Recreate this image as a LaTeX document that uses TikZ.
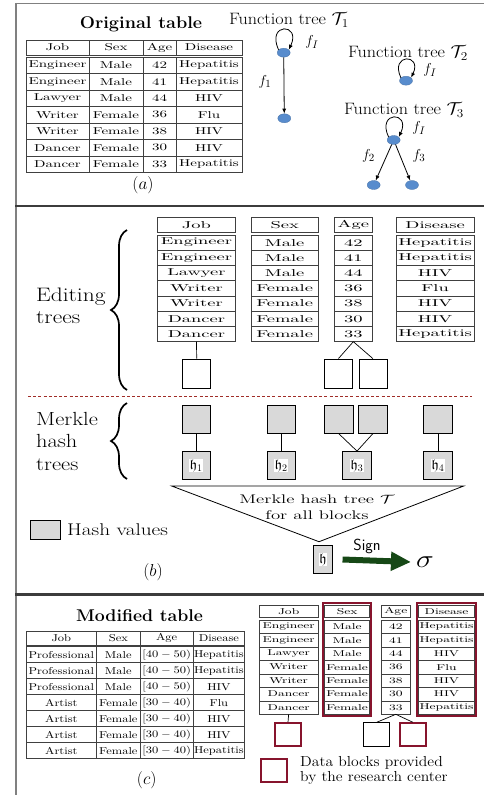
\documentclass[tikz,border=0pt]{standalone}
\usepackage{amssymb}
\usepackage{graphicx}
\usetikzlibrary{shapes.geometric,arrows.meta,fit,decorations.pathreplacing}
\newcommand{\sx}[2]{\scalebox{#1}[1]{#2}}
\newcommand{\tabtxt}[1]{#1}
\setlength{\fboxsep}{0.8pt}
\definecolor{nodeblue}{RGB}{88,140,205}
\definecolor{hashgray}{RGB}{217,217,217}
\definecolor{darkred}{RGB}{135,20,45}
\definecolor{dashred}{RGB}{160,45,40}
\definecolor{signgreen}{RGB}{22,72,22}
\definecolor{framegray}{RGB}{128,128,128}
\definecolor{sepdark}{RGB}{60,60,60}
\tikzset{
  cellbox/.style={draw=black!75, line width=0.6pt, inner sep=0pt, outer sep=0pt},
  blk/.style={draw=black, line width=0.8pt, minimum width=28pt, minimum height=29pt, inner sep=0pt},
  hashblk/.style={blk, fill=hashgray, minimum height=28pt, minimum width=28.5pt},
  redblk/.style={draw=darkred, line width=2pt, minimum width=26pt, minimum height=23pt, inner sep=0pt},
  redfit/.style={draw=darkred, line width=2pt, inner sep=1.5pt},
  tnode/.style={ellipse, fill=nodeblue, draw=nodeblue!80!black, line width=0.3pt, minimum width=13pt, minimum height=9pt, inner sep=0pt},
  farrow/.style={-{Latex[length=5pt,width=4pt]}, line width=0.8pt},
  flab/.style={font=\fontsize{15}{15}\selectfont, inner sep=0pt},
  ttitle/.style={font=\fontsize{16.5}{16.5}\selectfont, inner sep=0pt},
  hlab/.style={font=\fontsize{14}{14}\selectfont},
  plab/.style={font=\fontsize{18}{18}\selectfont, inner sep=0pt},
  signarr/.style={draw=signgreen, line width=6pt, -{Triangle[length=20pt,width=18pt]}},
  bigbrace/.style={decorate, decoration={brace, amplitude=16pt}, line width=1.7pt},
}
\newcommand{\datacol}[9]{%
  \node[cellbox, minimum width=#3pt, minimum height=#5pt] (#1-h) at (#2,#4) {\tabtxt{#8}};
  \foreach \t [count=\r] in {#9} {
    \node[cellbox, minimum width=#3pt, minimum height=#7pt] (#1-\r) at (#2,{#6-#7*(\r-0.5)}) {\tabtxt{\t}};
  }%
}
\begin{document}
\begin{tikzpicture}[x=1pt,y=1pt]
\useasboundingbox (0,0) rectangle (484,-795);
% frame
\draw[framegray, line width=1.5pt] (15,-3.5) -- (484,-3.5);
\draw[framegray, line width=2pt] (16,-2.8) -- (16,-795);
\draw[sepdark, line width=2.3pt] (15,-206.2) -- (484,-206.2);
\draw[sepdark, line width=2.3pt] (15,-594.5) -- (484,-594.5);

% ===== panel (a)
\node[font=\fontsize{17}{17}\selectfont\bfseries] (ot) at (141,-24) {\sx{1.06}{Original table}};
\renewcommand{\tabtxt}[1]{\fontsize{10}{12}\selectfont\sx{1.5}{#1}}
\datacol{ta1}{57.5}{63}{-47.5}{15}{-57}{16.5}{Job}{Engineer,Engineer,Lawyer,Writer,Writer,Dancer,Dancer}
\datacol{ta2}{116}{54}{-47.5}{15}{-57}{16.5}{Sex}{Male,Male,Male,Female,Female,Female,Female}
\datacol{ta3}{159.5}{33}{-47.5}{15}{-57}{16.5}{Age}{42,41,44,36,38,30,33}
\datacol{ta4}{209}{66}{-47.5}{15}{-57}{16.5}{Disease}{Hepatitis,Hepatitis,HIV,Flu,HIV,HIV,Hepatitis}
\node[plab] (la) at (143,-185) {$(a)$};

% function trees
\node[ttitle] (ft1) at (289,-20) {\sx{1.1}{Function tree $\mathcal{T}_1$}};
\node[tnode] (t1r) at (283.7,-52.7) {};
\node[tnode] (t1c) at (284.3,-118.3) {};
\draw[farrow] (t1r.150) .. controls +(115:30) and +(65:30) .. (t1r.30);
\node[flab] (f1i) at (312,-42) {$f_I$};
\draw[farrow] (t1r) -- (t1c);
\node[flab] (f1) at (265,-82) {$f_1$};

\node[ttitle] (ft2) at (408,-53) {\sx{1.1}{Function tree $\mathcal{T}_2$}};
\node[tnode] (t2r) at (406,-80.7) {};
\draw[farrow] (t2r.150) .. controls +(115:27) and +(65:27) .. (t2r.30);
\node[flab] (f2i) at (430,-70) {$f_I$};

\node[ttitle] (ft3) at (404,-110) {\sx{1.1}{Function tree $\mathcal{T}_3$}};
\node[tnode] (t3r) at (393.7,-140) {};
\node[tnode] (t3a) at (373.7,-185) {};
\node[tnode] (t3b) at (412,-185) {};
\draw[farrow] (t3r.150) .. controls +(115:29) and +(65:29) .. (t3r.30);
\node[flab] (f3i) at (419,-128) {$f_I$};
\draw[farrow] (t3r) -- (t3a);
\draw[farrow] (t3r) -- (t3b);
\node[flab] (f2) at (368.5,-156) {$f_2$};
\node[flab] (f3) at (419,-156) {$f_3$};

% ===== panel (b)
\renewcommand{\tabtxt}[1]{\fontsize{10}{12}\selectfont\sx{1.85}{#1}}
\datacol{bj}{196.5}{78.4}{-225}{14.6}{-235}{15.24}{Job}{Engineer,Engineer,Lawyer,Writer,Writer,Dancer,Dancer}
\datacol{bs}{284.65}{66.7}{-225}{14.6}{-235}{15.24}{Sex}{Male,Male,Male,Female,Female,Female,Female}
\datacol{ba}{353.35}{37.3}{-225}{14.6}{-235}{15.24}{Age}{42,41,44,36,38,30,33}
\datacol{bd}{435.15}{78.3}{-225}{14.6}{-235}{15.24}{Disease}{Hepatitis,Hepatitis,HIV,Flu,HIV,HIV,Hepatitis}

\node[blk] (ej) at (196.7,-373.5) {};
\node[blk] (ea1) at (338.4,-373.5) {};
\node[blk] (ea2) at (372.9,-373.5) {};
\draw[line width=0.7pt] (bj-7.south) -- (ej.north);
\draw[line width=0.7pt] (ba-7.south) -- (ea1.north);
\draw[line width=0.7pt] (ba-7.south) -- (ea2.north);

\coordinate (b1s) at (127,-390);
\coordinate (b1e) at (127,-230);
\draw[bigbrace] (b1s) -- (b1e);
\node[anchor=west, align=left, font=\fontsize{19.5}{22}\selectfont, inner sep=0pt] (edt) at (36,-306) {\sx{1.2}{Editing}\\\sx{1.2}{trees}};

\coordinate (dl) at (28,-396.7);
\coordinate (dr) at (472,-396.7);
\draw[dashred, line width=1.4pt, dash pattern=on 3pt off 2.2pt] (dl) -- (dr);

\coordinate (b2s) at (127,-479);
\coordinate (b2e) at (127,-403);
\draw[bigbrace] (b2s) -- (b2e);
\node[anchor=west, align=left, font=\fontsize{19}{22.5}\selectfont, inner sep=0pt] (mht) at (36,-441) {\sx{1.18}{Merkle}\\\sx{1.18}{hash}\\\sx{1.18}{trees}};

\node[hashblk] (m1) at (196.2,-419.2) {};
\node[hashblk] (m2) at (281.2,-419.2) {};
\node[hashblk] (m3a) at (338.7,-419.2) {};
\node[hashblk] (m3b) at (372.9,-419.2) {};
\node[hashblk] (m4) at (437.9,-419.2) {};
\node[hashblk, hlab] (h1) at (196.2,-465.5) {\colorbox{white}{$\mathfrak{h}_1$}};
\node[hashblk, hlab] (h2) at (281.2,-465.5) {\colorbox{white}{$\mathfrak{h}_2$}};
\node[hashblk, hlab] (h3) at (357,-465.5) {\colorbox{white}{$\mathfrak{h}_3$}};
\node[hashblk, hlab] (h4) at (437.9,-465.5) {\colorbox{white}{$\mathfrak{h}_4$}};
\draw[line width=0.7pt] (m1.south) -- (h1.north);
\draw[line width=0.7pt] (m2.south) -- (h2.north);
\draw[line width=0.7pt] (m3a.south) -- (h3.north);
\draw[line width=0.7pt] (m3b.south) -- (h3.north);
\draw[line width=0.7pt] (m4.south) -- (h4.north);

\coordinate (tl) at (171.7,-486);
\coordinate (tr) at (463.7,-486);
\coordinate (tapex) at (319,-541.7);
\draw[line width=0.8pt] (tl) -- (tr) -- (tapex) -- cycle;
\node[align=center, font=\fontsize{12.5}{15.5}\selectfont, inner sep=0pt] (mtt) at (317,-507) {\sx{1.5}{Merkle hash tree $\mathcal{T}$}\\\sx{1.5}{for all blocks}};

\node[hashblk, hlab, minimum width=18.3pt, minimum height=27.6pt] (hr) at (323,-559.5) {\colorbox{white}{$\mathfrak{h}$}};
\node[inner sep=0pt, font=\fontsize{24}{24}\selectfont] (sig) at (425,-562) {\sx{1.2}{$\sigma$}};
\draw[signarr] ([xshift=10pt]hr.east) -- ([xshift=-5pt]sig.west);
\node[font=\sffamily\fontsize{16}{16}\selectfont, inner sep=0pt] (sgn) at (367,-546) {Sign};

\node[hashblk, minimum width=29.3pt, minimum height=19.3pt] (hv) at (45.4,-529.6) {};
\node[anchor=west, font=\fontsize{17}{17}\selectfont, inner sep=0pt] (hvt) at (67,-529.6) {\sx{1.25}{Hash values}};
\node[plab] (lb) at (153,-571.7) {$(b)$};

% ===== panel (c)
\node[font=\fontsize{17}{17}\selectfont\bfseries] (mt) at (139.5,-615.7) {\sx{1.04}{Modified table}};
\renewcommand{\tabtxt}[1]{\fontsize{10}{12}\selectfont\sx{1.25}{#1}}
\datacol{cl1}{61.35}{70.7}{-638.35}{13.3}{-646.7}{16}{Job}{Professional,Professional,Professional,Artist,Artist,Artist,Artist}
\datacol{cl2}{118.35}{43.3}{-638.35}{13.3}{-646.7}{16}{Sex}{Male,Male,Male,Female,Female,Female,Female}
\datacol{cl3}{166.65}{53.3}{-638.35}{13.3}{-646.7}{16}{Age}{{$[40-50)$},{$[40-50)$},{$[40-50)$},{$[30-40)$},{$[30-40)$},{$[30-40)$},{$[30-40)$}}
\datacol{cl4}{218.9}{51.2}{-638.35}{13.3}{-646.7}{16}{Disease}{Hepatitis,Hepatitis,HIV,Flu,HIV,HIV,Hepatitis}
\node[plab] (lc) at (146.7,-780) {$(c)$};

\renewcommand{\tabtxt}[1]{\fontsize{8.5}{10}\selectfont\sx{1.55}{#1}}
\datacol{cj}{288.65}{58.7}{-611.3}{12.7}{-620}{13.47}{Job}{Engineer,Engineer,Lawyer,Writer,Writer,Dancer,Dancer}
\datacol{cs}{347.2}{45}{-611.3}{12.7}{-620}{13.47}{Sex}{Male,Male,Male,Female,Female,Female,Female}
\datacol{ca}{395.8}{29}{-611.3}{12.7}{-620}{13.47}{Age}{42,41,44,36,38,30,33}
\datacol{cd}{446.5}{55.6}{-611.3}{12.7}{-620}{13.47}{Disease}{Hepatitis,Hepatitis,HIV,Flu,HIV,HIV,Hepatitis}
\node[redfit, fit=(cs-h)(cs-7)] (csf) {};
\node[redfit, fit=(cd-h)(cd-7)] (cdf) {};

\node[redblk] (cbj) at (288,-734.7) {};
\node[blk, minimum width=26pt, minimum height=24pt] (cba1) at (376.7,-734.7) {};
\node[redblk] (cba2) at (412.7,-734.7) {};
\draw[line width=0.7pt] (cj-7.south) -- (cbj.north);
\draw[line width=0.7pt] (ca-7.south) -- (cba1.north);
\draw[line width=0.7pt] (ca-7.south) -- (cba2.north);

\node[redblk] (lgr) at (273.7,-770.3) {};
\node[anchor=west, align=left, font=\fontsize{14.5}{14.4}\selectfont, inner sep=0pt] (lgt) at (300,-770.5) {\sx{1.08}{Data blocks provided}\\\sx{1.08}{by the research center}};
\end{tikzpicture}
\end{document}
